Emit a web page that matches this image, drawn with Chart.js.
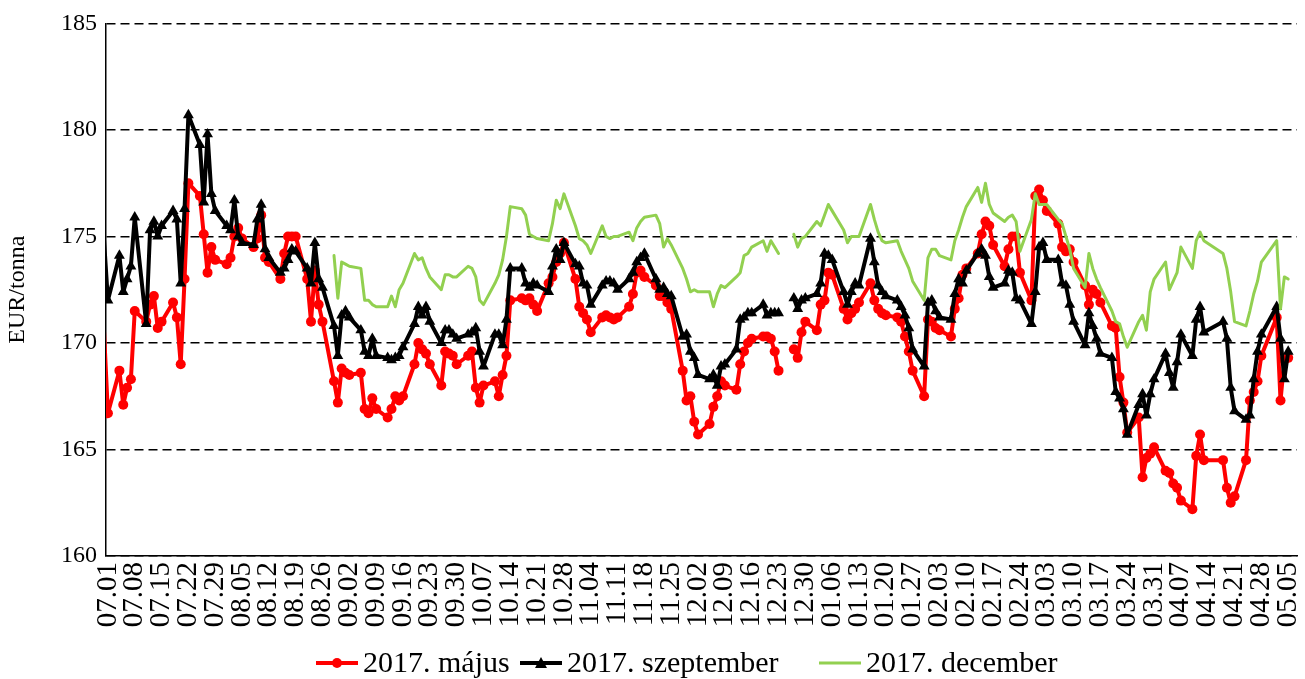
<!DOCTYPE html>
<html>
<head>
<meta charset="utf-8">
<script src="https://cdn.jsdelivr.net/npm/chart.js@4.4.1/dist/chart.umd.min.js"></script>
<style>
  html, body { margin: 0; padding: 0; background: #ffffff; }
  #wrap { width: 1305px; height: 679px; position: relative; }
  #chart { display: block; width: 1305px; height: 679px; }
</style>
</head>
<body>
<div id="wrap"><canvas id="chart" width="1305" height="679"></canvas></div>
<script>
// ---- axis / category data ----
const seriesNames = ['2017. május', '2017. szeptember', '2017. december'];
const yAxisTitle = 'EUR/tonna';
const tickLabels = ['07.01','07.08','07.15','07.22','07.29','08.05','08.12','08.19','08.26','09.02',
  '09.09','09.16','09.23','09.30','10.07','10.14','10.21','10.28','11.04','11.11','11.18','11.25',
  '12.02','12.09','12.16','12.23','12.30','01.06','01.13','01.20','01.27','02.03','02.10','02.17',
  '02.24','03.03','03.10','03.17','03.24','03.31','04.07','04.14','04.21','04.28','05.05'];
// days counted from 07.01 (a Friday); exchange holidays without a row
const holidays = [287, 290, 304];

// ---- series values, one row per week (Mon..Fri); first row = 06.30, 07.01 ----
const majus = [
  170.5, 166.7,
  168.7, 167.1, 167.9, 168.3, 171.5,
  171.0, 171.8, 172.2, 170.7, 171.0,
  171.9, 171.2, 169.0, 173.0, 177.5,
  176.9, 175.1, 173.3, 174.5, 173.9,
  173.7, 174.0, 175.0, 175.4, 174.9,
  174.5, 174.9, 176.0, 174.0, 173.8,
  173.0, 174.2, 175.0, 175.0, 175.0,
  173.0, 171.0, 173.4, 171.8, 171.0,
  168.2, 167.2, 168.8, 168.6, 168.5,
  168.6, 166.9, 166.7, 167.4, 166.9,
  166.5, 166.9, 167.5, 167.3, 167.5,
  169.0, 170.0, 169.7, 169.5, 169.0,
  168.0, 169.6, 169.5, 169.4, 169.0,
  169.4, 169.6, 167.9, 167.2, 168.0,
  168.2, 167.5, 168.5, 169.4, 172.0,
  172.1, 172.0, 172.1, 171.8, 171.5,
  172.8, 173.1, 173.8, 174.2, 174.7,
  173.0, 171.7, 171.4, 171.1, 170.5,
  171.2, 171.3, 171.2, 171.1, 171.2,
  171.7, 172.3, 173.3, 173.4, 173.1,
  172.7, 172.2, 172.2, 171.9, 171.6,
  168.7, 167.3, 167.5, 166.3, 165.7,
  166.2, 167.0, 167.5, 168.2, 168.0,
  167.8, 169.0, 169.6, 170.0, 170.2,
  170.3, 170.3, 170.2, 169.6, 168.7,
  null,  169.7, 169.3, 170.5, 171.0,
  170.6, 171.8, 172.0, 173.3, 173.2,
  171.6, 171.1, 171.4, 171.6, 171.9,
  172.8, 172.0, 171.6, 171.4, 171.3,
  171.2, 171.0, 170.3, 169.6, 168.7,
  167.5, 171.1, 171.0, 170.7, 170.6,
  170.3, 171.6, 172.1, 173.2, 173.5,
  174.2, 175.1, 175.7, 175.5, 174.6,
  173.6, 174.4, 175.0, 175.0, 173.3,
  172.0, 176.9, 177.2, 176.7, 176.2,
  175.6, 174.5, 174.3, 174.4, 173.8,
  172.7, 171.8, 172.5, 172.3, 171.9,
  170.8, 170.7, 168.4, 167.2, 165.8,
  166.5, 163.7, 164.6, 164.8, 165.1,
  164.0, 163.9, 163.4, 163.2, 162.6,
  162.2, 164.7, 165.7, 164.5,
  164.5, 163.2, 162.5, 162.8,
  164.5, 167.3, 167.7, 168.2, 169.4,
  171.2, 167.3, 169.2, 169.3
];
const szeptember = [
  174.8, 172.0,
  174.1, 172.4, 173.0, 173.6, 175.9,
  170.9, 175.3, 175.7, 175.0, 175.5,
  176.2, 175.8, 172.8, 176.3, 180.7,
  179.3, 176.6, 179.8, 177.0, 176.2,
  175.5, 175.3, 176.7, 175.0, 174.7,
  174.6, 175.8, 176.5, 174.4, 174.0,
  173.3, 173.5, 173.9, 174.4, 174.3,
  173.5, 172.8, 174.7, 173.0, 172.6,
  170.8, 169.4, 171.3, 171.5, 171.2,
  170.6, 169.6, 169.4, 170.2, 169.4,
  169.3, 169.2, 169.3, 169.4, 169.8,
  170.9, 171.7, 171.3, 171.7, 171.0,
  170.0, 170.6, 170.6, 170.4, 170.2,
  170.4, 170.5, 170.7, 169.6, 168.9,
  170.4, 170.4, 169.9, 171.1, 173.5,
  173.5, 172.8, 172.6, 172.8, 172.7,
  172.4, 173.6, 174.4, 173.9, 174.7,
  173.7, 173.6, 172.8, 172.7, 171.8,
  172.7, 172.9, 172.9, 172.8, 172.5,
  173.0, 173.3, 173.8, 174.0, 174.2,
  173.0, 172.5, 172.6, 172.3, 172.2,
  170.3, 170.4, 169.6, 169.3, 168.5,
  168.3, 168.5, 168.0, 168.9, 169.0,
  169.7, 171.1, 171.2, 171.4, 171.4,
  171.8, 171.3, 171.4, 171.4, 171.4,
  null,  172.1, 171.6, 172.0, 172.1,
  172.3, 172.8, 174.2, 174.1, 173.9,
  172.4, 171.8, 172.4, 172.8, 172.7,
  174.9, 173.8, 172.7, 172.4, 172.2,
  172.0, 171.7, 171.3, 170.7, 169.7,
  168.9, 171.9, 172.0, 171.5, 171.2,
  171.1, 172.3, 173.0, 172.8, 173.4,
  174.2, 174.4, 174.1, 173.1, 172.6,
  172.8, 173.4, 173.3, 172.1, 172.0,
  170.9, 172.4, 174.5, 174.7, 173.9,
  173.9, 172.8, 172.7, 171.8, 171.0,
  169.9, 171.4, 170.8, 170.2, 169.5,
  169.3, 167.7, 167.4, 166.9, 165.7,
  167.1, 167.6, 166.6, 167.6, 168.3,
  169.5, 168.6, 167.9, 169.1, 170.4,
  169.4, 171.1, 171.7, 170.5,
  171.0, 170.2, 167.9, 166.8,
  166.4, 166.6, 168.3, 169.6, 170.4,
  171.7, 170.2, 168.3, 169.6
];
const december = [
  null, null,
  null, null, null, null, null,
  null, null, null, null, null,
  null, null, null, null, null,
  null, null, null, null, null,
  null, null, null, null, null,
  null, null, null, null, null,
  null, null, null, null, null,
  null, null, null, null, null,
  174.1, 172.1, 173.8, 173.7, 173.6,
  173.5, 172.0, 172.0, 171.8, 171.7,
  171.7, 172.2, 171.7, 172.5, 172.8,
  174.2, 173.9, 174.0, 173.5, 173.1,
  172.5, 173.2, 173.2, 173.1, 173.1,
  173.6, 173.5, 173.1, 172.0, 171.8,
  172.8, 173.2, 173.9, 175.0, 176.4,
  176.3, 176.0, 175.1, 175.0, 174.9,
  174.8, 175.6, 176.7, 176.3, 177.0,
  175.5, 174.9, 174.8, 174.6, 174.2,
  175.5, 175.0, 174.9, 175.0, 175.0,
  175.2, 174.8, 175.4, 175.7, 175.9,
  176.0, 175.6, 174.5, 174.9, 174.6,
  173.5, 173.0, 172.4, 172.5, 172.4,
  172.4, 171.7, 172.3, 172.7, 172.6,
  173.1, 173.3, 174.1, 174.2, 174.5,
  174.8, 174.3, 174.8, 174.5, 174.2,
  null,  175.1, 174.5, 174.9, 175.0,
  175.7, 175.5, 176.0, 176.5, 176.2,
  175.3, 174.7, 175.0, 175.0, 175.0,
  176.5, 175.8, 175.2, 174.8, 174.7,
  174.8, 174.3, 173.9, 173.5, 172.9,
  172.0, 174.0, 174.4, 174.4, 174.1,
  173.9, 174.8, 175.3, 175.9, 176.4,
  177.3, 176.6, 177.5, 176.5, 176.1,
  175.7, 175.9, 176.0, 175.7, 174.3,
  175.8, 177.0, 176.5, 176.5, 176.5,
  175.8, 175.6, 175.0, 174.4, 173.5,
  172.6, 174.2, 173.5, 173.0, 172.6,
  171.5, 171.0, 170.9, 170.3, 169.8,
  171.0, 171.3, 170.6, 172.4, 173.0,
  173.8, 172.5, 172.9, 173.3, 174.5,
  173.5, 174.8, 175.2, 174.8,
  174.2, 173.5, 172.4, 171.0,
  170.8, 171.5, 172.3, 172.9, 173.8,
  174.8, 171.6, 173.1, 173.0
];

// ---- trading-day calendar (day offsets from 07.01) ----
const tradingDays = [];
for (let d = -1; d <= 308; d++) {
  const wd = ((d % 7) + 12) % 7; // 0 = Sunday ... 6 = Saturday (day 0 is a Friday)
  if (wd >= 1 && wd <= 5 && !holidays.includes(d)) tradingDays.push(d);
}
function toPoints(values) {
  return tradingDays.map((d, i) => ({ x: d, y: values[i] === undefined ? null : values[i] }));
}

const FONT = "'Liberation Serif', 'Times New Roman', serif";
Chart.defaults.font.family = FONT;
Chart.defaults.color = '#000000';

const RED = '#FF0000', BLACK = '#000000', GREEN = '#92D050';
const LEFT = 106, TOP = 18, RIGHT = 1297, BOTTOM = 556;

// legend drawn as a small plugin (line sample + marker + text)
const legendPlugin = {
  id: 'bottomLegend',
  afterDraw(chart) {
    const ctx = chart.ctx;
    const y = 663;
    const starts = [316, 520, 819];
    const styles = [
      { color: RED, w: 4, marker: 'circle' },
      { color: BLACK, w: 4, marker: 'triangle' },
      { color: GREEN, w: 3, marker: null }
    ];
    ctx.save();
    seriesNames.forEach((name, i) => {
      const s = styles[i], x0 = starts[i], len = 42;
      ctx.strokeStyle = s.color; ctx.lineWidth = s.w; ctx.lineCap = 'butt';
      ctx.beginPath(); ctx.moveTo(x0, y); ctx.lineTo(x0 + len, y); ctx.stroke();
      ctx.fillStyle = s.color;
      const cx = x0 + len / 2;
      if (s.marker === 'circle') { ctx.beginPath(); ctx.arc(cx, y, 5, 0, Math.PI * 2); ctx.fill(); }
      if (s.marker === 'triangle') { ctx.beginPath(); ctx.moveTo(cx, y - 6); ctx.lineTo(cx + 6, y + 5); ctx.lineTo(cx - 6, y + 5); ctx.closePath(); ctx.fill(); }
      ctx.fillStyle = '#000';
      ctx.font = "30px " + FONT;
      ctx.textBaseline = 'middle';
      ctx.textAlign = 'left';
      ctx.fillText(name, x0 + len + 5, y + 1);
    });
    ctx.restore();
  }
};

const hideLead = (r) => (ctx) => (ctx.raw && ctx.raw.x < 0 ? 0 : r);

new Chart(document.getElementById('chart'), {
  type: 'line',
  data: {
    datasets: [
      { label: seriesNames[0], data: toPoints(majus), borderColor: RED, backgroundColor: RED,
        borderWidth: 4, pointStyle: 'circle', pointRadius: hideLead(5), pointBorderWidth: 0,
        pointBackgroundColor: RED, spanGaps: false, order: 3, clip: 0 },
      { label: seriesNames[1], data: toPoints(szeptember), borderColor: BLACK, backgroundColor: BLACK,
        borderWidth: 4, pointStyle: 'triangle', pointRadius: hideLead(6.3), pointBorderWidth: 0,
        pointBackgroundColor: BLACK, spanGaps: false, order: 2, clip: 0 },
      { label: seriesNames[2], data: toPoints(december), borderColor: GREEN, backgroundColor: GREEN,
        borderWidth: 3, pointRadius: 0, spanGaps: false, order: 1, clip: 0 }
    ]
  },
  plugins: [legendPlugin],
  options: {
    responsive: false,
    maintainAspectRatio: false,
    animation: false,
    devicePixelRatio: 1,
    events: [],
    layout: { padding: { left: 0, right: 1305 - RIGHT, top: TOP, bottom: 0 } },
    elements: { line: { tension: 0, borderJoinStyle: 'round', borderCapStyle: 'round' } },
    plugins: {
      tooltip: { enabled: false },
      legend: { display: false }
    },
    scales: {
      x: {
        type: 'linear',
        min: -0.5,
        max: 310.3,
        afterBuildTicks: (s) => { s.ticks = tickLabels.map((l, i) => ({ value: i * 7 })); },
        afterFit: (s) => {
          s.paddingLeft = 0; s.paddingRight = 0;
          s.height = s.chart.height - BOTTOM;
        },
        ticks: {
          autoSkip: false, maxRotation: 90, minRotation: 90, padding: 6,
          font: { size: 29, family: FONT }, color: '#000',
          callback: (v) => tickLabels[Math.round(v / 7)]
        },
        grid: { display: true, drawOnChartArea: false, drawTicks: false, color: '#000' },
        border: { display: true, color: '#000', width: 1.5 }
      },
      y: {
        type: 'linear',
        min: 160,
        max: 185,
        afterFit: (s) => { s.width = LEFT; },
        ticks: { stepSize: 5, padding: 9, font: { size: 24, family: FONT }, color: '#000' },
        grid: { color: '#000', lineWidth: 1.5, drawTicks: false },
        border: { display: true, color: '#000', width: 1.5, dash: [9, 5] },
        title: { display: true, text: yAxisTitle, font: { size: 24, family: FONT }, color: '#000', padding: { top: 3, bottom: 0 } }
      }
    }
  }
});
</script>
</body>
</html>
